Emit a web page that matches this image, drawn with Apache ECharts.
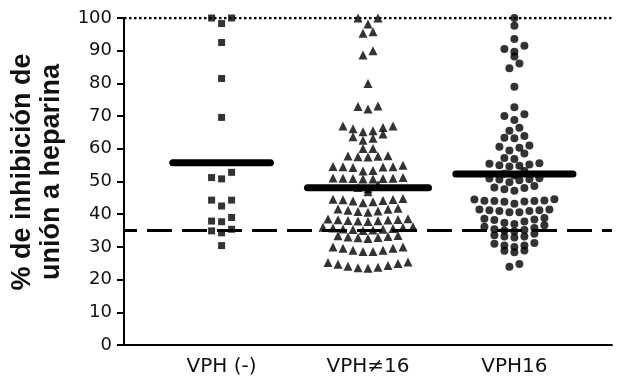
<!DOCTYPE html>
<html>
<head>
<meta charset="utf-8">
<script src="https://cdn.jsdelivr.net/npm/echarts@6/dist/echarts.min.js"></script>
<style>html,body{margin:0;padding:0;background:#fff}#chart{width:622px;height:382px}</style>
</head>
<body>
<div id="chart"></div>
<script>
// ---- data ----
const categories = ['VPH (-)', 'VPH\u226016', 'VPH16'];
const vphNegativo = [100, 100, 98.3, 92.5, 81.5, 69.6, 52.8, 51.2, 50.8, 44.3, 44.3, 42.5,
  39.0, 37.9, 37.7, 35.4, 34.9, 34.3, 30.4];
const vphNo16 = [100, 100, 98.2, 95.8, 95.3, 90.0, 88.7, 80.0, 73.1, 72.9, 72.2,
  67.0, 67.0, 66.5, 66.1, 65.5, 65.2, 64.5, 63.7, 63.2, 62.6, 60.1, 60.1,
  57.9, 57.8, 57.7, 57.6, 57.5, 55.0, 54.6, 54.5, 54.5, 54.4, 54.3, 53.4, 53.2,
  51.2, 51.1, 51.0, 51.0, 50.9, 50.9, 50.8, 50.8, 49.0, 48.2, 47.8, 46.9,
  44.8, 44.6, 44.5, 44.4, 44.2, 44.0, 43.8, 43.5, 41.8, 41.6, 41.5, 41.2, 41.0, 40.8, 40.6,
  38.6, 38.5, 38.4, 38.3, 38.2, 38.1, 38.0, 37.9, 37.8,
  36.2, 36.0, 35.9, 35.8, 35.6, 35.5, 35.4, 35.3, 35.2, 35.0,
  33.5, 33.4, 33.2, 33.0, 32.9, 32.8, 32.6, 30.0, 30.0, 29.6, 29.6, 29.0, 29.0, 28.6, 28.6,
  25.4, 25.2, 24.9, 24.7, 24.3, 24.1, 23.8, 23.6, 23.5];
const vph16 = [100, 97.6, 93.6, 91.5, 90.5, 89.7, 88.2, 86.1, 84.6, 79.0, 72.7, 70.6, 70.0, 68.8,
  66.4, 65.5, 63.9, 63.4, 63.2, 61.0, 60.6, 60.3, 59.5, 58.6, 57.2, 56.9,
  55.6, 55.4, 55.2, 55.0, 54.8, 54.6, 53.2, 52.4, 51.8, 51.0, 50.9, 50.7, 50.6, 50.4, 49.8,
  48.6, 48.2, 48.0, 47.6, 47.2, 44.6, 44.5, 44.2, 44.1, 44.0, 44.0, 43.9, 43.8, 43.2,
  41.4, 41.4, 41.2, 41.2, 41.0, 41.0, 40.6, 40.6, 38.8, 38.6, 38.4, 38.2, 37.8, 37.4, 37.0,
  36.6, 36.2, 35.8, 35.4, 35.2, 35.0, 34.8, 34.0, 33.6, 33.2, 33.2, 32.9,
  31.2, 31.0, 30.4, 30.4, 30.0, 28.9, 28.8, 28.4, 24.8, 23.9];
const groupMeans = [55.7, 48.1, 52.3];
const yTickValues = [0, 10, 20, 30, 40, 50, 60, 70, 80, 90, 100];
const upperLimit = 100;
const cutoff = 35;

// ---- layout / style ----
const W = 622, H = 382;
const G = { left: 124, right: 10, top: 18, bottom: 37 };
const X_MAX = 5;
const Y_MAX = yTickValues[yTickValues.length - 1];
const plotW = W - G.left - G.right, plotH = H - G.top - G.bottom;
const pxPerX = plotW / X_MAX;
const colPx = 10;          // horizontal spacing of swarm columns
const rowTol = 2.0;        // values closer than this share a row
const centers = categories.map((c, i) => 1 + 1.5 * i);
const barHalf = [0.5, 0.62, 0.6];

// Prism-like scatter-dot layout computed from the values
function swarm(values, center) {
  const sorted = values.slice().sort((a, b) => b - a);
  const rows = [];
  let cur = null;
  for (const v of sorted) {
    if (!cur || cur.start - v > rowTol + 1e-9) { cur = { start: v, vals: [] }; rows.push(cur); }
    cur.vals.push(v);
  }
  const pts = [];
  for (const r of rows) {
    const asc = r.vals.slice().sort((a, b) => a - b);
    const n = asc.length;
    const slots = [];
    for (let i = 0; i < n; i++) slots.push(i - (n - 1) / 2);
    slots.sort((a, b) => Math.abs(a) - Math.abs(b) || a - b);
    asc.forEach((v, i) => pts.push([center + slots[i] * colPx / pxPerX, v]));
  }
  return pts;
}

const groups = [vphNegativo, vphNo16, vph16];
const symbols = ['rect', 'triangle', 'circle'];
const symSizes = [7, 9, 8];

const series = [];
series.push({
  type: 'line', data: [[0, upperLimit], [X_MAX, upperLimit]], symbol: 'none', silent: true, z: 1,
  lineStyle: { color: '#000', width: 2.5, type: [2.5, 2.5] }
});
series.push({
  type: 'line', data: [[0, cutoff], [X_MAX, cutoff]], symbol: 'none', silent: true, z: 1,
  lineStyle: { color: '#000', width: 3, type: [25, 10], dashOffset: 12 }
});
groups.forEach((g, i) => {
  series.push({
    type: 'scatter', data: swarm(g, centers[i]), symbol: symbols[i], symbolSize: symSizes[i],
    itemStyle: { color: '#000' }, clip: false, z: 3, silent: true
  });
  series.push({
    type: 'line', data: [[centers[i] - barHalf[i], groupMeans[i]], [centers[i] + barHalf[i], groupMeans[i]]],
    symbol: 'none', silent: true, z: 5,
    lineStyle: { color: '#000', width: 7, cap: 'round' }
  });
});

const chart = echarts.init(document.getElementById('chart'), null, { renderer: 'canvas' });
chart.setOption({
  animation: false,
  backgroundColor: '#fff',
  grid: { left: G.left, right: G.right, top: G.top, bottom: G.bottom, containLabel: false, outerBoundsMode: 'none' },
  xAxis: {
    type: 'value', min: 0, max: X_MAX, interval: 0.5,
    axisLine: { show: true, onZero: false, lineStyle: { color: '#000', width: 2 } },
    axisTick: { show: false }, splitLine: { show: false },
    axisLabel: {
      margin: 12, fontFamily: 'DejaVu Sans', fontSize: 20, color: '#111',
      showMinLabel: true, showMaxLabel: true, hideOverlap: false,
      formatter: v => { const i = centers.findIndex(c => Math.abs(c - v) < 1e-6); return i >= 0 ? categories[i] : ''; }
    }
  },
  yAxis: {
    type: 'value', min: 0, max: Y_MAX, interval: 10,
    axisLine: { show: true, lineStyle: { color: '#000', width: 2 } },
    axisTick: { show: true, length: 7, lineStyle: { color: '#000', width: 2 } },
    splitLine: { show: false },
    axisLabel: { margin: 12, fontFamily: 'DejaVu Sans', fontSize: 18, color: '#111',
      formatter: v => (yTickValues.indexOf(v) >= 0 ? String(v) : '') }
  },
  graphic: [{
    type: 'text', x: 37, y: 172, rotation: Math.PI / 2, silent: true,
    style: {
      text: '% de inhibición de\nunión a heparina',
      fontFamily: 'Liberation Sans', fontSize: 27, fontWeight: 'bold', lineHeight: 29,
      fill: '#111', align: 'center', verticalAlign: 'middle', textAlign: 'center', textVerticalAlign: 'middle'
    }
  }],
  series: series
});
</script>
</body>
</html>
